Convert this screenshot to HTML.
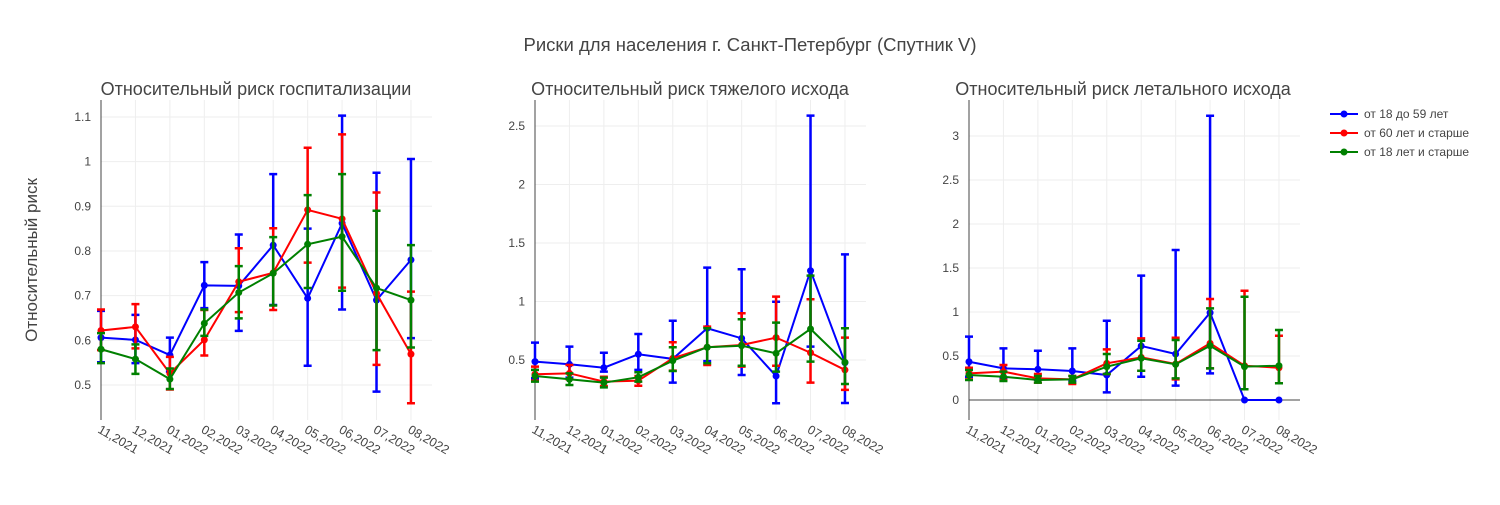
<!DOCTYPE html>
<html><head><meta charset="utf-8"><style>
body{margin:0;background:#fff;font-family:"Liberation Sans",sans-serif;}
svg text{font-family:"Liberation Sans",sans-serif;fill:#444;}
</style></head><body>
<svg id="chart" width="1500" height="500" xmlns="http://www.w3.org/2000/svg">
<text x="750" y="51" text-anchor="middle" font-size="18.5">Риски для населения г. Санкт-Петербург (Спутник V)</text>
<text transform="translate(37,260) rotate(-90)" text-anchor="middle" font-size="17">Относительный риск</text>
<g id="plots"></g>
<g>
<g><line x1="1330" y1="114" x2="1358" y2="114" stroke="#0000ff" stroke-width="2"/><circle cx="1344" cy="114" r="3.5" fill="#0000ff"/><text x="1364" y="118" font-size="12">от 18 до 59 лет</text></g>
<g><line x1="1330" y1="133" x2="1358" y2="133" stroke="#ff0000" stroke-width="2"/><circle cx="1344" cy="133" r="3.5" fill="#ff0000"/><text x="1364" y="137" font-size="12">от 60 лет и старше</text></g>
<g><line x1="1330" y1="152" x2="1358" y2="152" stroke="#008000" stroke-width="2"/><circle cx="1344" cy="152" r="3.5" fill="#008000"/><text x="1364" y="156" font-size="12">от 18 лет и старше</text></g>
</g>
</svg>
<script>
const categories=["11,2021","12,2021","01,2022","02,2022","03,2022","04,2022","05,2022","06,2022","07,2022","08,2022"];
// Plot 1: hospitalization
const hospBlue=[0.606,0.601,0.567,0.723,0.722,0.813,0.694,0.862,0.690,0.780];
const hospBlueHi=[0.666,0.657,0.606,0.775,0.837,0.972,0.85,1.103,0.975,1.006];
const hospBlueLo=[0.551,0.549,0.53,0.672,0.621,0.679,0.543,0.669,0.485,0.605];
const hospRed=[0.622,0.630,0.526,0.601,0.731,0.751,0.892,0.872,0.705,0.569];
const hospRedHi=[0.669,0.681,0.563,0.668,0.806,0.851,1.031,1.061,0.931,0.709];
const hospRedLo=[0.578,0.582,0.49,0.566,0.663,0.668,0.774,0.718,0.545,0.459];
const hospGreen=[0.580,0.558,0.513,0.638,0.707,0.750,0.815,0.832,0.717,0.690];
const hospGreenHi=[0.616,0.591,0.537,0.669,0.766,0.831,0.925,0.972,0.890,0.813];
const hospGreenLo=[0.549,0.525,0.491,0.610,0.649,0.678,0.717,0.711,0.578,0.584];
const hospTicks=[0.5,0.6,0.7,0.8,0.9,1,1.1];
// Plot 2: severe
const sevBlue=[0.486,0.463,0.434,0.549,0.509,0.771,0.685,0.363,1.263,0.477];
const sevBlueHi=[0.648,0.614,0.562,0.722,0.835,1.289,1.275,0.998,2.588,1.403];
const sevBlueLo=[0.344,0.349,0.40,0.415,0.306,0.49,0.372,0.13,0.614,0.132];
const sevRed=[0.378,0.386,0.315,0.323,0.514,0.609,0.628,0.691,0.562,0.415];
const sevRedHi=[0.443,0.457,0.357,0.363,0.651,0.785,0.899,1.041,1.019,0.691];
const sevRedLo=[0.323,0.335,0.278,0.28,0.409,0.457,0.443,0.451,0.306,0.244];
const sevGreen=[0.363,0.335,0.306,0.352,0.494,0.609,0.622,0.557,0.765,0.48];
const sevGreenHi=[0.415,0.386,0.349,0.395,0.609,0.771,0.848,0.819,1.221,0.771];
const sevGreenLo=[0.315,0.286,0.266,0.315,0.406,0.472,0.451,0.4,0.486,0.295];
const sevTicks=[0.5,1,1.5,2,2.5];
// Plot 3: lethal
const letBlue=[0.435,0.36,0.349,0.33,0.284,0.614,0.523,0.992,0,0];
const letBlueHi=[0.72,0.587,0.56,0.587,0.901,1.413,1.705,3.23,null,null];
const letBlueLo=[0.265,0.25,0.23,0.22,0.087,0.265,0.163,0.303,null,null];
const letRed=[0.303,0.322,0.246,0.235,0.417,0.485,0.409,0.644,0.39,0.367];
const letRedHi=[0.367,0.398,0.295,0.273,0.576,0.701,0.708,1.148,1.242,0.731];
const letRedLo=[0.235,0.227,0.197,0.182,0.295,0.333,0.235,0.36,0.122,0.19];
const letGreen=[0.284,0.265,0.227,0.235,0.379,0.474,0.405,0.617,0.379,0.39];
const letGreenHi=[0.341,0.322,0.273,0.273,0.523,0.674,0.682,1.042,1.174,0.795];
const letGreenLo=[0.227,0.216,0.197,0.197,0.295,0.333,0.246,0.36,0.122,0.19];
const letTicks=[0,0.5,1,1.5,2,2.5,3];

const NS="http://www.w3.org/2000/svg";
function mk(tag,attrs,parent){const e=document.createElementNS(NS,tag);for(const k in attrs)e.setAttribute(k,attrs[k]);parent.appendChild(e);return e;}
const root=document.getElementById('plots');
const panels=[
 {name:'hospitalization',title:'Относительный риск госпитализации',tx:256,x0:101,x1:432,ymin:0.4216,ymax:1.138,ticks:hospTicks,zero:false,
  series:[[hospBlue,hospBlueHi,hospBlueLo,'#0000ff'],[hospRed,hospRedHi,hospRedLo,'#ff0000'],[hospGreen,hospGreenHi,hospGreenLo,'#008000']]},
 {name:'severe',title:'Относительный риск тяжелого исхода',tx:690,x0:535,x1:866,ymin:-0.013,ymax:2.722,ticks:sevTicks,zero:false,
  series:[[sevBlue,sevBlueHi,sevBlueLo,'#0000ff'],[sevRed,sevRedHi,sevRedLo,'#ff0000'],[sevGreen,sevGreenHi,sevGreenLo,'#008000']]},
 {name:'lethal',title:'Относительный риск летального исхода',tx:1123,x0:969,x1:1300,ymin:-0.227,ymax:3.409,ticks:letTicks,zero:true,
  series:[[letBlue,letBlueHi,letBlueLo,'#0000ff'],[letRed,letRedHi,letRedLo,'#ff0000'],[letGreen,letGreenHi,letGreenLo,'#008000']]}
];
const Y0=100,Y1=420,STEP=34.44;
panels.forEach(p=>{
 const g=mk('g',{},root);
 
 
 const sx=i=>p.x0+i*STEP;
 const sy=v=>Y1-(v-p.ymin)/(p.ymax-p.ymin)*(Y1-Y0);
 const t=mk('text',{x:p.tx,y:95,'text-anchor':'middle','font-size':18},g);
 t.textContent=p.title;
 
 
 categories.forEach((c,i)=>{mk('line',{x1:sx(i),x2:sx(i),y1:Y0,y2:Y1,stroke:'#eee','stroke-width':1},g);});
 p.ticks.forEach(v=>{
  mk('line',{x1:p.x0,x2:p.x1,y1:sy(v),y2:sy(v),stroke:(p.zero&&v===0)?'#444':'#eee','stroke-width':1},g);
  const tl=mk('text',{x:p.x0-10,y:sy(v)+4,'text-anchor':'end','font-size':12},g);
  tl.textContent=String(v);
  
  
 });
 mk('line',{x1:p.x0,x2:p.x0,y1:Y0,y2:Y1,stroke:'#444','stroke-width':1},g);
 categories.forEach((c,i)=>{
  const tl=mk('text',{transform:`translate(${sx(i)-4},${Y1+12}) rotate(30)`,'font-size':12.5},g);
  tl.textContent=c;
  
  
 });
 p.series.forEach(([vals,hi,lo,col])=>{
  const sg=mk('g',{},g);
  
  
  vals.forEach((v,i)=>{
   if(hi[i]==null)return;
   const eb=mk('path',{d:`M${sx(i)},${sy(lo[i])}V${sy(hi[i])}M${sx(i)-4},${sy(hi[i])}h8M${sx(i)-4},${sy(lo[i])}h8`,stroke:col,'stroke-width':2.5,fill:'none'},sg);
   
   
  });
  const ln=mk('polyline',{points:vals.map((v,i)=>sx(i)+','+sy(v)).join(' '),stroke:col,'stroke-width':2,fill:'none'},sg);
  
  
  vals.forEach((v,i)=>{
   const c=mk('circle',{cx:sx(i),cy:sy(v),r:3.5,fill:col},sg);
   
   
  });
 });
});
</script>
</body></html>
